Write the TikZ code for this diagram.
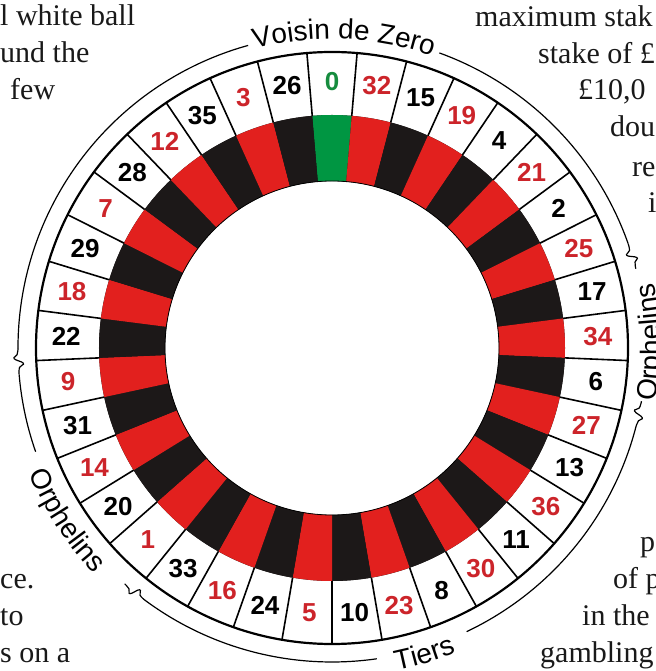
\documentclass[tikz,border=0pt]{standalone}
\usepackage{fontspec}
\setmainfont{Liberation Serif}
\newfontfamily\numfont{Liberation Sans}
\newfontfamily\labelfont{Liberation Sans}
\usetikzlibrary{positioning,decorations.text}

\definecolor{wheelred}{RGB}{226,32,30}
\definecolor{wheelblack}{RGB}{28,24,24}
\definecolor{wheelgreen}{RGB}{0,150,66}
\definecolor{numred}{RGB}{204,36,42}
\definecolor{numgreen}{RGB}{22,140,62}

\begin{document}
\begin{tikzpicture}[
  x=1pt, y=1pt,
  cellline/.style={line width=1.6pt},
  rimline/.style={line width=2.2pt},
  betline/.style={line width=1.2pt},
  numlbl/.style={font=\numfont\bfseries\fontsize{26}{26}\selectfont, inner sep=0pt},
  booktext/.style={font=\fontsize{30}{36}\selectfont, text=black!90, inner sep=0pt, anchor=base west},
  betlabel/.style={decorate, decoration={text along path, text align=center, text={|\labelfont\fontsize{28}{30}\selectfont|#1}}}
]
\useasboundingbox (-332,-323) rectangle (323,348);
\clip (-332,-323) rectangle (323,348);

% surrounding page text
\node[booktext] (tl1) at (-332,322) {l white ball};
\node[booktext] (tl2) at (-332,285) {und the};
\node[booktext] (tl3) at (-322,248) {few};
\node[booktext] (tr1) at (143,321) {maximum stak};
\node[booktext] (tr2) at (206,284) {stake of £};
\node[booktext] (tr3) at (246,248) {£10,0};
\node[booktext] (tr4) at (278,211) {dou};
\node[booktext] (tr5) at (300,171) {re};
\node[booktext] (tr6) at (316,135) {i};
\node[booktext] (bl1) at (-332,-240) {ce.};
\node[booktext] (bl2) at (-332,-277) {to};
\node[booktext] (bl3) at (-332,-314) {s on a};
\node[booktext] (br1) at (308,-203) {p};
\node[booktext] (br2) at (281,-240) {of p};
\node[booktext] (br3) at (250,-277) {in the};
\node[booktext] (br4) at (208,-314) {gambling};

% wheel
\fill[wheelblack, even odd rule] (0,0) circle[radius=233] (0,0) circle[radius=167];
\foreach \num [count=\k from 0] in {0,32,15,19,4,21,2,25,17,34,6,27,13,36,11,30,8,23,10,5,24,16,33,1,20,14,31,9,22,18,29,7,28,12,35,3,26} {
  \pgfmathsetmacro\amid{90-\k*360/37}
  \pgfmathsetmacro\aone{\amid+180/37}
  \pgfmathsetmacro\atwo{\amid-180/37}
  \ifnum\k=0 \def\fillcol{wheelgreen}\def\txtcol{numgreen}\else
    \ifodd\k \def\fillcol{wheelred}\def\txtcol{numred}\else \def\fillcol{wheelblack}\def\txtcol{black}\fi
  \fi
  \fill[\fillcol] (\aone:167) arc[start angle=\aone, end angle=\atwo, radius=167]
    -- (\atwo:233) arc[start angle=\atwo, end angle=\aone, radius=233] -- cycle;
  \draw[cellline] (\aone:233) -- (\aone:296);
  \node[numlbl, text=\txtcol] (n\num) at (\amid:266) {\num};
}
\draw[line width=0.8pt] (0,0) circle[radius=167];
\draw[rimline] (0,0) circle[radius=296];

% bet sections
\draw[betline] (180.03:314) arc[start angle=180.03, end angle=105.5, radius=314];
\draw[betline] (70:314) arc[start angle=70, end angle=19.43, radius=314];
\draw[betline] (-14.56:314) arc[start angle=-14.56, end angle=-64.6, radius=314];
\draw[betline] (-81.8:314) arc[start angle=-81.8, end angle=-126.52, radius=314];
\draw[betline] (-160.7:314) arc[start angle=-160.7, end angle=-175.17, radius=314];
\foreach \b in {17.03,-12.16,-128.92,-177.57}
  \draw[betline] plot[smooth, tension=0.8] coordinates {({\b+2.4}:314) ({\b+1.1}:313) ({\b+0.4}:309) ({\b-0.5}:318) ({\b-1.2}:315) ({\b-2.4}:314)};

\path[betlabel={Voisin de Zero}] (106:309) arc[start angle=106, end angle=69.5, radius=309];
\path[betlabel={Tiers}] (-82:329) arc[start angle=-82, end angle=-64.5, radius=329];
\path[betlabel={Orphelins}] (-162:328) arc[start angle=-162, end angle=-132, radius=328];
\path[betlabel={Orphelins}] (-12:328) arc[start angle=-12, end angle=14, radius=328];
\end{tikzpicture}
\end{document}
